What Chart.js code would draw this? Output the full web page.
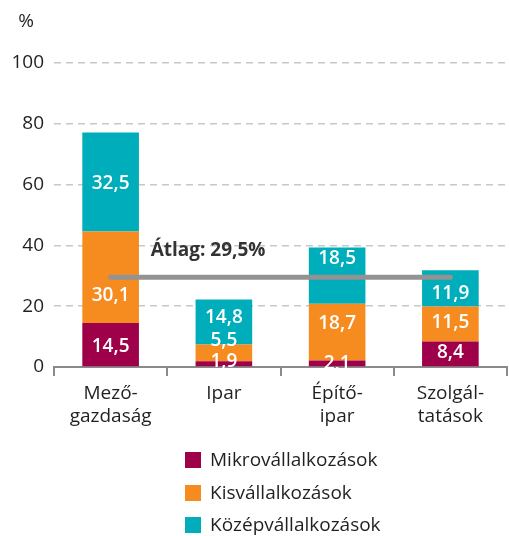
<!DOCTYPE html>
<html>
<head>
<meta charset="utf-8">
<script src="https://cdn.jsdelivr.net/npm/chart.js@4/dist/chart.umd.min.js"></script>
<style>
  body { margin: 0; background: #fff; }
  #wrap { position: relative; width: 509px; height: 536px; }
</style>
</head>
<body>
<div id="wrap"><canvas id="chart"></canvas></div>
<script>
// chart data
const categories = [['Mező-', 'gazdaság'], 'Ipar', ['Építő-', 'ipar'], ['Szolgál-', 'tatások']];
const seriesNames = ['Mikrovállalkozások', 'Kisvállalkozások', 'Középvállalkozások'];
const mikro = [14.5, 1.9, 2.1, 8.4];
const kis = [30.1, 5.5, 18.7, 11.5];
const kozep = [32.5, 14.8, 18.5, 11.9];
const average = 29.5;
const yTicks = [0, 20, 40, 60, 80, 100];

const colors = ['#9e0049', '#f68b1f', '#00adba'];
// small vertical nudges for the value labels, px
const labelNudge = [
    [2, -2, 0, -1],
    [18, -12, -9, -1],
    [2, -4, -17, 5]
];

const FONT = '"Open Sans", sans-serif';

const fmt = v => v.toFixed(1).replace('.', ',');

// white value labels inside the segments + average label + legend + % title
const extras = {
    id: 'extras',
    afterDatasetsDraw(chart) {
        const ctx = chart.ctx;
        const yScale = chart.scales.y;
        const xScale = chart.scales.x;
        ctx.save();
        ctx.font = '600 19px ' + FONT;
        ctx.fillStyle = '#fff';
        ctx.textAlign = 'center';
        ctx.textBaseline = 'middle';
        for (let d = 0; d < 3; d++) {
            const meta = chart.getDatasetMeta(d);
            meta.data.forEach((bar, i) => {
                const mid = (bar.y + bar.base) / 2;
                ctx.fillText(fmt(chart.data.datasets[d].data[i]), bar.x, mid + labelNudge[d][i]);
            });
        }

        // average label
        ctx.font = 'bold 19px ' + FONT;
        ctx.fillStyle = '#333';
        ctx.textAlign = 'left';
        ctx.fillText('Átlag: ' + fmt(average) + '%', xScale.getPixelForValue(0) + 40, yScale.getPixelForValue(average) - 27);

        // % unit
        ctx.font = '19px ' + FONT;
        ctx.fillStyle = '#231f20';
        ctx.textAlign = 'center';
        ctx.fillText('%', 26, 22);

        // legend
        ctx.font = '19px ' + FONT;
        ctx.textAlign = 'left';
        const rows = [460, 493, 525];
        for (let d = 0; d < 3; d++) {
            ctx.fillStyle = colors[d];
            ctx.fillRect(185, rows[d] - 8, 16, 16);
            ctx.fillStyle = '#231f20';
            ctx.fillText(seriesNames[d], 210, rows[d] + 1);
        }
        ctx.restore();
    }
};

new Chart(document.getElementById('chart'), {
    data: {
        labels: categories,
        datasets: [
            { type: 'bar', label: seriesNames[0], data: mikro, backgroundColor: colors[0], order: 1 },
            { type: 'bar', label: seriesNames[1], data: kis, backgroundColor: colors[1], order: 1 },
            { type: 'bar', label: seriesNames[2], data: kozep, backgroundColor: colors[2], order: 1 },
            {
                type: 'line', label: 'Átlag', data: categories.map(() => average), stack: 'avg',
                borderColor: '#939393', borderWidth: 5, borderCapStyle: 'round',
                pointRadius: 0, order: 0
            }
        ]
    },
    options: {
        responsive: true,
        maintainAspectRatio: false,
        animation: false,
        events: [],
        layout: { padding: { top: 63, right: 2, bottom: 99, left: 0 } },
        datasets: { bar: { barPercentage: 0.5, categoryPercentage: 1 } },
        scales: {
            x: {
                stacked: true,
                grid: { offset: true, drawOnChartArea: false, color: '#8a8a8a', lineWidth: 2, tickLength: 9 },
                border: { color: '#8a8a8a', width: 2 },
                ticks: { color: '#231f20', font: { family: FONT, size: 19 }, padding: 6, maxRotation: 0 },
                afterFit: s => { s.height = 70; }
            },
            y: {
                stacked: true,
                min: 0,
                max: 100,
                afterBuildTicks: s => { s.ticks = yTicks.map(v => ({ value: v })); },
                grid: { color: '#c8c8c8', lineWidth: 1.5, drawTicks: false },
                border: { display: false, dash: [7, 5] },
                ticks: { color: '#231f20', font: { family: FONT, size: 19 }, padding: 10 },
                afterFit: s => { s.width = 54; }
            }
        },
        plugins: {
            legend: { display: false },
            tooltip: { enabled: false }
        }
    },
    plugins: [extras]
});
</script>
</body>
</html>
